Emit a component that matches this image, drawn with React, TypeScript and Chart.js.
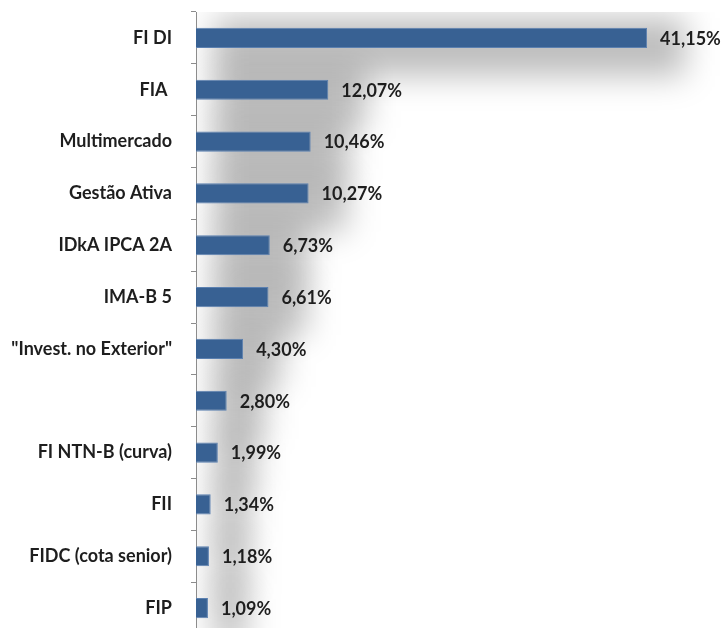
import React, { useEffect, useRef } from "react";
import { Chart, registerables } from "chart.js";

Chart.register(...registerables);

const categories: string[] = [
  "FI DI",
  "FIA ",
  "Multimercado",
  "Gestão Ativa",
  "IDkA IPCA 2A",
  "IMA-B 5",
  "\"Invest. no Exterior\"",
  "",
  "FI NTN-B (curva)",
  "FII",
  "FIDC (cota senior)",
  "FIP",
];

const shares: number[] = [41.15, 12.07, 10.46, 10.27, 6.73, 6.61, 4.3, 2.8, 1.99, 1.34, 1.18, 1.09];

const valueLabels: string[] = shares.map((v) => v.toFixed(2).replace(".", ",") + "%");

const FONT = "Lato, 'Open Sans', sans-serif";
const FONT_SIZE = 18;

export default function App() {
  const ref = useRef<HTMLCanvasElement | null>(null);

  useEffect(() => {
    let chart: Chart | null = null;
    let cancelled = false;

    const shadowPlugin = {
      id: "barShadow",
      beforeDatasetsDraw(c: any) {
        const { ctx, chartArea } = c;
        const meta = c.getDatasetMeta(0);
        ctx.save();
        ctx.beginPath();
        ctx.rect(chartArea.left + 1, chartArea.top, chartArea.right - chartArea.left, chartArea.bottom - chartArea.top);
        ctx.clip();
        ctx.filter = "blur(16px)";
        ctx.fillStyle = "rgba(0,0,0,0.26)";
        meta.data.forEach((bar: any) => {
          const p = bar.getProps(["x", "y", "base", "height"], true);
          const yt = p.y - p.height / 2;
          const yb = p.y + p.height / 2;
          ctx.fillRect(p.base + 18, yt - 10, p.x - p.base + 20, yb - yt + 38);
        });
        ctx.restore();
      },
    };

    const valuePlugin = {
      id: "valueLabels",
      afterDatasetsDraw(c: any) {
        const { ctx } = c;
        const meta = c.getDatasetMeta(0);
        ctx.save();
        ctx.font = `bold ${FONT_SIZE}px ${FONT}`;
        ctx.fillStyle = "#1e1e1e";
        ctx.textAlign = "left";
        ctx.textBaseline = "middle";
        meta.data.forEach((bar: any, i: number) => {
          const p = bar.getProps(["x", "y"], true);
          ctx.fillText(valueLabels[i], p.x + 13, p.y + 1);
        });
        ctx.restore();
      },
    };

    const make = () => {
      if (cancelled || !ref.current) return;
      chart = new Chart(ref.current, {
        type: "bar",
        data: {
          labels: categories,
          datasets: [
            {
              data: shares,
              backgroundColor: "#386193",
              borderColor: "#5b80b0",
              borderWidth: 1,
              borderSkipped: "start",
              barPercentage: 0.39,
              categoryPercentage: 1,
            },
          ],
        },
        options: {
          indexAxis: "y",
          responsive: false,
          animation: false,
          devicePixelRatio: 1,
          layout: { padding: { top: 12, right: 1, bottom: 6, left: 0 } },
          plugins: {
            legend: { display: false },
            tooltip: { enabled: false },
          },
          scales: {
            x: {
              display: false,
              min: 0,
              max: 47.8,
            },
            y: {
              afterFit: (s: any) => {
                s.width = 196;
                s.paddingTop = 0;
                s.paddingBottom = 0;
              },
              grid: {
                display: true,
                drawOnChartArea: false,
                drawTicks: true,
                tickLength: 5,
                color: "#8c8c8c",
                offset: true,
              },
              border: { display: true, color: "#8c8c8c", width: 1 },
              ticks: {
                padding: 19,
                color: "#1e1e1e",
                font: { family: FONT, size: FONT_SIZE, weight: "bold" },
                autoSkip: false,
              },
            },
          },
        },
        plugins: [shadowPlugin, valuePlugin],
      });
    };

    const fontsApi = (document as any).fonts;
    if (fontsApi && fontsApi.load) {
      fontsApi.load(`bold ${FONT_SIZE}px Lato`).then(make, make);
    } else {
      make();
    }

    return () => {
      cancelled = true;
      if (chart) chart.destroy();
    };
  }, []);

  return (
    <div style={{ position: "fixed", left: 0, top: 0, width: 721, height: 640, background: "#fff" }}>
      <canvas ref={ref} width={721} height={640} style={{ display: "block" }} />
    </div>
  );
}
